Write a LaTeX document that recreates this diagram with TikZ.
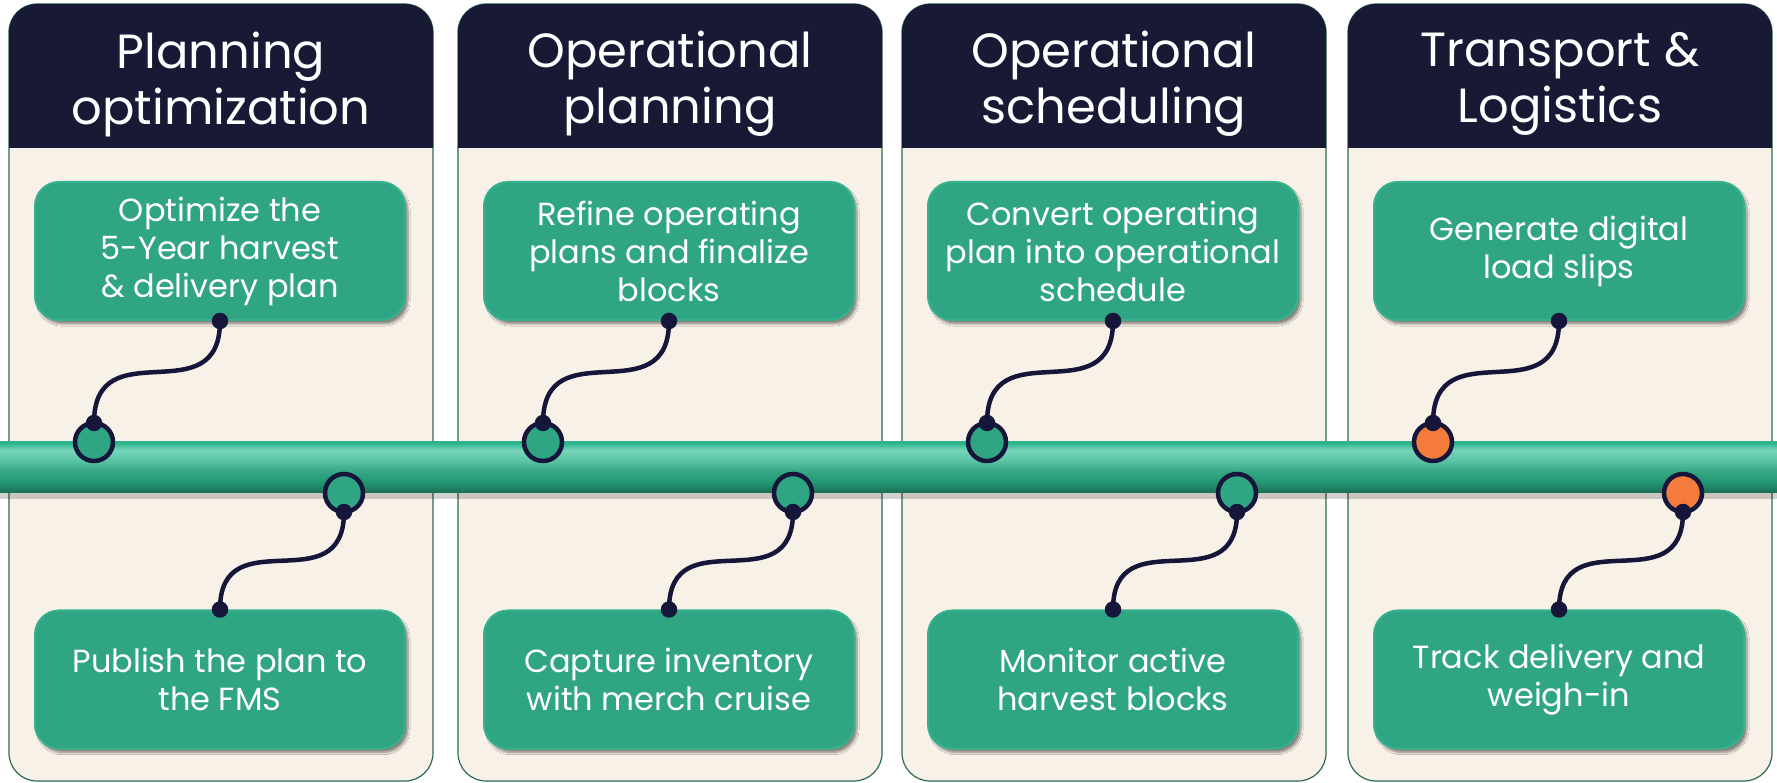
\documentclass[tikz,border=0pt]{standalone}
\usepackage{fontspec}
\setmainfont{Poppins}
\usetikzlibrary{shadows.blur}

\definecolor{headfill}{HTML}{181935}
\definecolor{cream}{HTML}{F7F1E7}
\definecolor{panelline}{HTML}{2D6A55}
\definecolor{boxfill}{HTML}{30A584}
\definecolor{boxrim}{HTML}{35B28D}
\definecolor{inkblue}{HTML}{15163A}
\definecolor{signal}{HTML}{F47B3B}
\definecolor{bar0}{HTML}{2DB48C}
\definecolor{bar1}{HTML}{76D5BB}
\definecolor{bar2}{HTML}{5CC4A6}
\definecolor{bar3}{HTML}{38A886}
\definecolor{bar4}{HTML}{249A77}
\definecolor{bar5}{HTML}{1C7157}

\pgfdeclareverticalshading{barshade}{100bp}{color(0bp)=(bar5); color(26bp)=(bar5);
  color(37bp)=(bar4); color(47bp)=(bar3); color(57bp)=(bar2); color(67bp)=(bar1);
  color(74bp)=(bar0); color(100bp)=(bar0)}

\tikzset{
  panel/.style={rectangle, rounded corners=28pt, fill=cream, draw=panelline,
    line width=1.2pt, minimum width=424pt, minimum height=777pt, inner sep=0pt, outer sep=0pt},
  headtext/.style={text=white, align=center, font=\fontsize{48}{56}\selectfont},
  stepbox/.style={rectangle, rounded corners=24pt, fill=boxfill, draw=boxrim, line width=2pt,
    minimum width=370pt, minimum height=138pt, text=white, align=center,
    font=\fontsize{32}{38}\selectfont,
    blur shadow={shadow xshift=3pt, shadow yshift=-4pt, shadow opacity=45, shadow blur steps=6}},
  station/.style={circle, fill=boxfill, draw=inkblue, line width=4.5pt, minimum size=38pt,
    inner sep=0pt, outer sep=0pt},
  knot/.style={circle, fill=inkblue, minimum size=16.5pt, inner sep=0pt},
  link/.style={draw=inkblue, line width=4.5pt}
}

\begin{document}
\begin{tikzpicture}[x=1pt, y=1pt]

    \useasboundingbox[fill=white] (0,0) rectangle (1777,782);

    % Panels
    \node[panel] (p1) at (221,389.5) {};
    \node[panel] (p2) at (670,389.5) {};
    \node[panel] (p3) at (1114,389.5) {};
    \node[panel] (p4) at (1560,389.5) {};

    % Header bands
    \fill[headfill] (9,634) [rounded corners=28pt] -- (9,778) -- (433,778) [sharp corners] -- (433,634) -- cycle;
    \fill[headfill] (458,634) [rounded corners=28pt] -- (458,778) -- (882,778) [sharp corners] -- (882,634) -- cycle;
    \fill[headfill] (902,634) [rounded corners=28pt] -- (902,778) -- (1326,778) [sharp corners] -- (1326,634) -- cycle;
    \fill[headfill] (1348,634) [rounded corners=28pt] -- (1348,778) -- (1772,778) [sharp corners] -- (1772,634) -- cycle;

    \node[headtext] (h1) at (221,698) {Planning\\optimization};
    \node[headtext] (h2) at (670,698) {Operational\\planning};
    \node[headtext] (h3) at (1114,698) {Operational\\scheduling};
    \node[headtext] (h4) at (1560,698) {Transport \&\\Logistics};

    % Timeline bar
    \fill[black, opacity=0.18] (0,283) rectangle (1777,289);
    \shade[shading=barshade] (0,289) rectangle (1777,340);

    % Steps
    \node[stepbox] (t1) at (220,531) {Optimize the\\5-Year harvest\\\& delivery plan};
    \node[stepbox] (t2) at (669,531) {Refine operating\\plans and finalize\\blocks};
    \node[stepbox] (t3) at (1113,531) {Convert operating\\plan into operational\\schedule};
    \node[stepbox] (t4) at (1559,531) {Generate digital\\load slips};

    \node[stepbox] (b1) at (220,102.5) {Publish the plan to\\the FMS};
    \node[stepbox] (b2) at (669,102.5) {Capture inventory\\with merch cruise};
    \node[stepbox] (b3) at (1113,102.5) {Monitor active\\harvest blocks};
    \node[stepbox] (b4) at (1559,102.5) {Track delivery and\\weigh-in};

    % Stations on the bar
    \node[station] (u1) at (94,340) {};
    \node[station] (u2) at (543,340) {};
    \node[station] (u3) at (987,340) {};
    \node[station, fill=signal] (u4) at (1433,340) {};

    \node[station] (l1) at (344,289) {};
    \node[station] (l2) at (793,289) {};
    \node[station] (l3) at (1237,289) {};
    \node[station, fill=signal] (l4) at (1683,289) {};

    % Dots
    \node[knot] (ud1) at (u1.north) {};
    \node[knot] (ud2) at (u2.north) {};
    \node[knot] (ud3) at (u3.north) {};
    \node[knot] (ud4) at (u4.north) {};
    \node[knot] (ld1) at (l1.south) {};
    \node[knot] (ld2) at (l2.south) {};
    \node[knot] (ld3) at (l3.south) {};
    \node[knot] (ld4) at (l4.south) {};

    \node[knot] (td1) at (t1.south) {};
    \node[knot] (td2) at (t2.south) {};
    \node[knot] (td3) at (t3.south) {};
    \node[knot] (td4) at (t4.south) {};
    \node[knot] (bd1) at (b1.north) {};
    \node[knot] (bd2) at (b2.north) {};
    \node[knot] (bd3) at (b3.north) {};
    \node[knot] (bd4) at (b4.north) {};

    % Lines
    \draw[link] (ud1.center) to[out=90, in=-90, looseness=1.5] (td1.center);
    \draw[link] (ud2.center) to[out=90, in=-90, looseness=1.5] (td2.center);
    \draw[link] (ud3.center) to[out=90, in=-90, looseness=1.5] (td3.center);
    \draw[link] (ud4.center) to[out=90, in=-90, looseness=1.5] (td4.center);
    \draw[link] (ld1.center) to[out=-90, in=90, looseness=1.5] (bd1.center);
    \draw[link] (ld2.center) to[out=-90, in=90, looseness=1.5] (bd2.center);
    \draw[link] (ld3.center) to[out=-90, in=90, looseness=1.5] (bd3.center);
    \draw[link] (ld4.center) to[out=-90, in=90, looseness=1.5] (bd4.center);

\end{tikzpicture}
\end{document}
